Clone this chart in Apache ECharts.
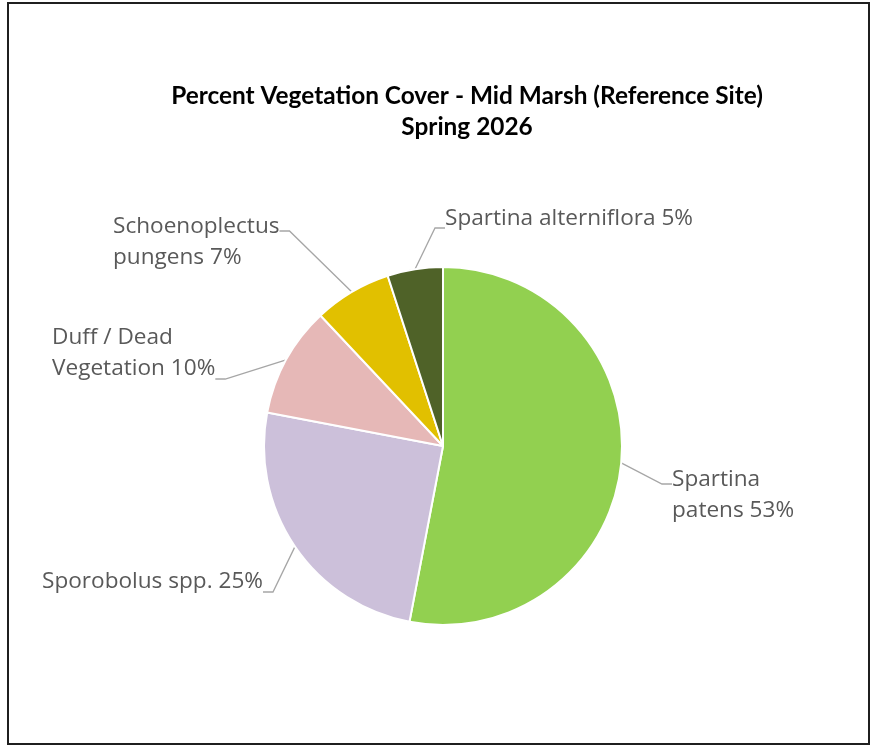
<!DOCTYPE html>
<html>
<head>
<meta charset="utf-8">
<script src="https://cdn.jsdelivr.net/npm/echarts@6/dist/echarts.min.js"></script>
<style>
  html, body { margin: 0; padding: 0; background: #ffffff; }
  #chart { width: 872px; height: 747px; }
</style>
</head>
<body>
<div id="chart"></div>
<script>
// ---- data ----
const titleLines = ['Percent Vegetation Cover - Mid Marsh (Reference Site)', 'Spring 2026'];
const categories = ['Spartina patens', 'Sporobolus spp.', 'Duff / Dead Vegetation', 'Schoenoplectus pungens', 'Spartina alterniflora'];
const percentValues = [53, 25, 10, 7, 5];
const labelNames = ['Spartina\npatens', 'Sporobolus spp.', 'Duff / Dead\nVegetation', 'Schoenoplectus\npungens', 'Spartina alterniflora'];
const sliceColors = ['#92D050', '#CCC0DA', '#E6B8B7', '#E1C000', '#4F6228'];

// label placement (layout only): y is where the leader line meets the label;
// pads shift the text block relative to that point
const labelPlacement = [
  { x: 672, y: 486, padTop: 18, padBottom: 0 },
  { x: 42, y: 590, padTop: 0, padBottom: 16 },
  { x: 52, y: 377, padTop: 0, padBottom: 48 },
  { x: 113, y: 233, padTop: 18, padBottom: 0 },
  { x: 445, y: 226, padTop: 0, padBottom: 14 }
];

const chart = echarts.init(document.getElementById('chart'), null, { renderer: 'canvas' });

const LABEL_FONT = '"Open Sans", "Noto Sans", sans-serif';
const TITLE_FONT = 'bold 24.4px Lato, "Open Sans", sans-serif';

const rich = {
  t: { fontFamily: LABEL_FONT, fontSize: 22.6, lineHeight: 31, color: '#595959' }
};
labelPlacement.forEach((p, i) => {
  if (p.padTop) rich['pt' + i] = { fontSize: p.padTop, lineHeight: p.padTop, color: 'rgba(0,0,0,0)' };
  if (p.padBottom) rich['pb' + i] = { fontSize: p.padBottom, lineHeight: p.padBottom, color: 'rgba(0,0,0,0)' };
});

function labelFormatter(p) {
  const i = p.dataIndex;
  const lines = (labelNames[i] + ' ' + p.value + '%').split('\n').map(s => '{t|' + s + '}');
  if (labelPlacement[i].padTop) lines.unshift('{pt' + i + '| }');
  if (labelPlacement[i].padBottom) lines.push('{pb' + i + '| }');
  return lines.join('\n');
}

chart.setOption({
  animation: false,
  backgroundColor: '#ffffff',
  graphic: [
    {
      type: 'rect',
      shape: { x: 8, y: 3, width: 861, height: 741 },
      style: { fill: 'none', stroke: '#1f1f1f', lineWidth: 2 },
      silent: true
    },
    {
      type: 'text',
      x: 467, y: 96,
      style: {
        text: titleLines[0],
        align: 'center', verticalAlign: 'middle',
        font: TITLE_FONT,
        fill: '#000000'
      }
    },
    {
      type: 'text',
      x: 467, y: 127,
      style: {
        text: titleLines[1],
        align: 'center', verticalAlign: 'middle',
        font: TITLE_FONT,
        fill: '#000000'
      }
    }
  ],
  series: [{
    type: 'pie',
    center: [443, 446],
    radius: 179,
    startAngle: 90,
    clockwise: true,
    avoidLabelOverlap: false,
    data: categories.map((c, i) => ({
      name: c,
      value: percentValues[i],
      itemStyle: { color: sliceColors[i] }
    })),
    itemStyle: { borderColor: '#ffffff', borderWidth: 2 },
    emphasis: { disabled: true },
    label: {
      show: true,
      position: 'outside',
      formatter: labelFormatter,
      fontFamily: LABEL_FONT,
      fontSize: 22.6,
      color: '#595959',
      align: 'left',
      rich: rich
    },
    labelLine: {
      show: true,
      length: 20,
      length2: 10,
      lineStyle: { color: '#A6A6A6', width: 1.3 }
    },
    labelLayout: function (params) {
      const p = labelPlacement[params.dataIndex];
      return { x: p.x, y: p.y, align: 'left', verticalAlign: 'middle' };
    }
  }]
});
</script>
</body>
</html>
